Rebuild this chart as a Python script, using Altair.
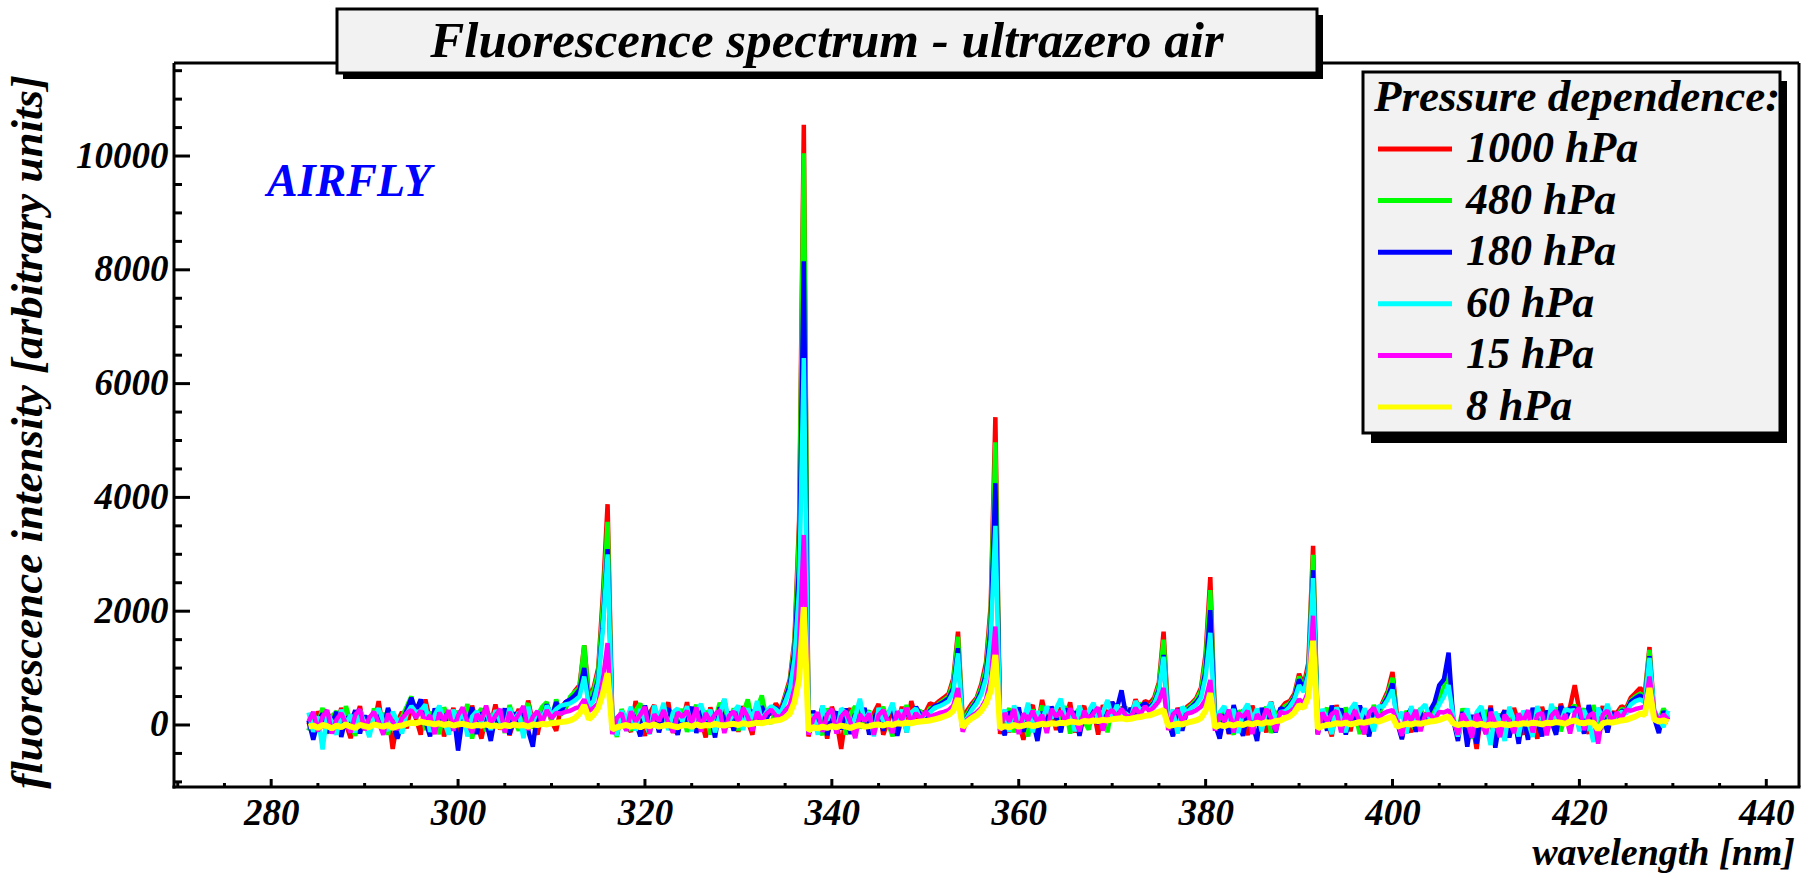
import altair as alt
import numpy as np
import pandas as pd

# Scan grid of the spectrometer (nm), 0.5 nm steps from 284.0 to 429.5
wavelength = np.arange(284.0, 430.0, 0.5)

series_names = ["1000 hPa", "480 hPa", "180 hPa", "60 hPa", "15 hPa", "8 hPa"]
series_colors = ["#ff0000", "#00ff00", "#0000ff", "#00ffff", "#ff00ff", "#ffff00"]

# Fluorescence intensity (arbitrary units), one list per pressure, 10 nm per row
i_1000 = [
    50, -180, 240, 30, -150, 190, -40, 300, 20, -230, 80, 330, -90, 160, 0, 420, -100, 220, -420, 60,
    230, -60, 360, 110, -170, 450, 80, -120, 260, -200, 40, 300, -130, 200, -40, 340, 30, -240, 150, 10,
    360, -80, 190, -180, 60, 280, -60, 430, 40, -170, 230, 350, 70, -100, 300, 400, 450, 600, 700, 1400,
    500, 650, 1000, 2300, 3880, 150, -160, 260, 20, -120, 420, 60, -190, 210, 350, -80, 140, 400, -140, 190,
    40, 400, -100, 250, 90, -220, 310, 30, 200, 450, -40, 260, -120, 330, 70, -170, 380, 60, 270, 180,
    380, 250, 520, 800, 1500, 3600, 10550, -200, 120, -130, 250, -240, 320, 60, -420, 170, 290, -80, 360, 50,
    -110, 210, 370, -170, 60, 260, 20, 320, -130, 420, 120, 230, 220, 380, 350, 420, 480, 550, 820, 1640,
    100, 260, 380, 480, 720, 1100, 2100, 5410, -160, 190, -130, 290, 40, -260, 220, 350, -70, 440, 70, 260,
    -90, 310, 90, 400, -130, 220, 330, 30, 260, -170, 350, 120, 400, 180, 300, 300, 140, 450, 250, 420,
    380, 480, 750, 1640, 150, -130, 300, 90, 320, 380, 470, 650, 1250, 2600, 100, -200, 240, -160, 310, 60,
    260, -180, 340, 40, 210, -130, 410, 90, 280, 380, 420, 550, 900, 700, 1100, 3150, -130, 260, 60, -200,
    350, 80, 250, -110, 320, 90, -160, 220, 300, 220, 420, 600, 930, 120, -230, 170, -130, 260, 40, 190,
    220, 300, 550, 800, 970, 100, -190, 210, -280, 60, -420, 200, -130, 340, -200, 40, 260, -160, 300, 30,
    -170, 230, 60, -240, 320, 20, 210, -130, 370, 160, 320, 700, 250, 40, -150, 260, 60, 330, -100, 220,
    210, 330, 290, 480, 560, 650, 560, 1370, 200, 120, 80, 60,
]
i_480 = [
    -100, 200, 20, 300, -140, 150, 240, -70, 330, 40, -190, 260, 60, -130, 290, 30, 210, -170, 180, 20,
    150, 320, 500, 120, 390, -90, 230, 60, -160, 310, 100, -80, 250, 40, 370, -240, 150, 290, -110, 200,
    30, 260, -140, 350, 100, -100, 230, 380, -60, 170, 320, 400, 60, 450, 180, 280, 500, 580, 650, 1400,
    450, 600, 930, 2100, 3570, 80, -210, 280, 60, -100, 250, 380, 10, -150, 270, 80, 330, -80, 210, 60,
    280, -120, 190, 350, 30, 250, -170, 80, 390, 140, 40, 290, -100, 200, 450, 60, 270, 520, 120, 30,
    250, 180, 480, 750, 1400, 3400, 10050, -150, 200, 40, -180, 290, 80, -100, 240, -170, 200, 330, -60, 150,
    250, -130, 150, 320, 40, -200, 230, 80, 350, 20, 270, 240, 140, 300, 290, 380, 440, 500, 760, 1550,
    60, 200, 330, 450, 660, 1000, 1950, 4970, -90, 150, 290, -130, 210, 80, -200, 270, 60, 340, -100, 170,
    240, 30, 330, -150, 190, 290, 60, -80, 310, 90, 240, -130, 370, 110, 250, 300, 100, 300, 380, 300,
    320, 430, 700, 1500, 90, -180, 220, 60, 280, 350, 440, 600, 1150, 2370, 60, -100, 290, 30, -170, 250,
    150, 300, -80, 230, 60, 320, -140, 200, 250, 330, 380, 500, 850, 650, 1000, 2990, -60, 180, 300, -130,
    210, -80, 310, 60, 200, -160, 260, 40, 350, 150, 380, 550, 830, 60, -170, 250, 30, -100, 300, 80,
    160, 260, 480, 700, 900, 60, -160, 290, 40, -240, 170, -90, 260, 60, -300, 200, 20, 240, -130, 160,
    60, -90, 260, 90, -150, 230, 40, 310, -110, 160, 260, 350, 120, 290, -100, 350, 80, -70, 250, 40,
    150, 280, 260, 430, 500, 550, 500, 1320, 150, 80, 290, 130,
]
i_180 = [
    80, -260, 60, 200, -130, 30, 230, -210, 140, 40, 260, -150, 170, -90, 60, 220, -80, 300, 50, -240,
    30, 260, 480, 250, 450, 70, -200, 290, 40, 190, -130, 240, -450, 150, 30, 310, -160, 220, 60, -280,
    170, 30, 290, -170, 220, 60, 320, -100, -380, 240, 80, 360, 130, 400, 220, 400, 450, 520, 620, 1000,
    380, 500, 800, 1800, 3090, 60, -160, 200, -100, 270, 70, -200, 340, 30, 240, -130, 170, 290, 40, -170,
    200, 60, 320, -140, 270, 40, 160, -220, 310, 70, 230, -100, 300, 90, 30, 260, 60, 330, 110, 280,
    300, 220, 450, 700, 1300, 2800, 8150, -130, 250, 20, 330, -180, 140, 230, -80, 290, -160, 200, 60, 300,
    -170, 100, 270, -100, 200, 310, -190, 140, 240, 40, 320, 170, 120, 250, 330, 360, 410, 470, 650, 1350,
    -40, 150, 300, 420, 600, 900, 1700, 4250, 40, -180, 240, 60, 310, -120, 200, 90, -280, 230, 40, 320,
    140, -130, 290, 50, 240, -190, 200, 80, 340, 20, 270, 110, 400, 280, 610, 150, 290, 200, 320, 380,
    300, 400, 620, 1230, 60, -200, 280, -100, 250, 320, 400, 520, 950, 2020, 20, -240, 190, -150, 350, 30,
    -190, 250, 50, -280, 300, 80, 220, -130, 300, 260, 350, 480, 800, 620, 950, 2720, -160, 240, -100, 340,
    60, 290, -170, 220, 30, 340, 100, -200, 270, 280, 350, 500, 730, 40, -250, 150, 290, -120, 210, 60,
    250, 400, 700, 800, 1270, 90, -280, 230, -380, 180, -330, 260, -150, 300, -400, 100, 250, -220, 150, -330,
    190, -260, 300, 40, -200, 250, 60, -170, 330, 80, 290, 300, 130, -150, 350, 20, 280, 230, -130, 220,
    100, 250, 230, 410, 470, 520, 450, 1210, 120, -140, 240, 90,
]
i_60 = [
    220, -120, 150, -430, 190, 60, -170, 270, 20, 180, -130, 250, 40, -210, 150, 290, 60, -100, 230, 80,
    -150, 200, 330, 220, 250, 360, -120, 170, 340, 60, -170, 270, 30, 290, -200, 150, 240, 40, 320, -90,
    260, 60, -100, 300, 80, 220, -230, 320, 40, 250, 100, 340, 180, 280, 340, 360, 380, 430, 500, 850,
    330, 420, 750, 1700, 3000, 40, -180, 250, 80, 320, -100, 280, 60, -160, 340, 110, 390, -90, 220, 290,
    60, 330, -110, 230, 370, 90, 270, -130, 180, 460, 50, 240, 340, -90, 290, 110, 420, 70, 230, 330,
    280, 200, 400, 620, 1150, 2400, 6450, -110, 190, -170, 340, 80, 260, -130, 290, 210, -90, 150, 460, 60,
    230, -200, 300, 70, 190, 390, 40, 270, -130, 220, 290, 100, 190, 220, 300, 330, 370, 420, 580, 1260,
    -20, 130, 270, 380, 540, 820, 1500, 3500, 60, 270, -120, 340, 120, 70, 390, -130, 240, 80, 330, 120,
    290, 460, 100, 240, -110, 340, 90, 250, 390, 60, 220, 440, 120, 350, 210, 200, 130, 420, 260, 300,
    270, 370, 580, 1200, 40, 270, -150, 320, 220, 300, 360, 480, 850, 1620, 40, 220, 330, 60, 280, -140,
    230, 370, 90, 290, -110, 250, 400, 60, 230, 240, 320, 450, 700, 580, 900, 2580, -90, 280, 100, -160,
    310, 110, -130, 270, 390, 70, 290, 130, -110, 330, 320, 450, 620, 80, 230, -150, 330, 60, 270, 360,
    110, 180, 360, 500, 700, 150, -200, 60, 290, -130, 220, 330, 20, -350, 230, 60, -280, 320, 90, -200,
    250, 60, -210, 330, 110, -120, 370, 130, 60, 280, 250, 260, -110, 260, 60, -300, 300, 120, 370, 60,
    180, 230, 200, 360, 420, 450, 400, 1180, 260, 110, -40, 250,
]
i_15 = [
    60, 230, -110, 150, 260, -150, 100, 210, 20, -130, 180, 270, -90, 130, 230, 40, -170, 200, 60, -80,
    120, 210, 260, 130, 250, 60, 170, -160, 220, 70, 260, -100, 170, 310, 50, -140, 190, 80, 340, 30,
    160, 280, -130, 230, 60, 190, 330, -90, 150, 240, 50, 260, 120, 210, 200, 230, 250, 290, 320, 450,
    250, 300, 380, 800, 1440, -160, 130, 210, -100, 240, 60, 180, 320, -150, 190, 70, 260, 40, -130, 220,
    140, 250, 30, 310, -120, 210, 60, 190, 260, -140, 160, 240, 40, 300, 140, -100, 230, 70, 200, 270,
    160, 140, 250, 350, 650, 1400, 3340, -170, 100, 220, -120, 190, 280, -150, 150, 240, 40, -230, 190, 70,
    200, -170, 170, 260, 50, -140, 240, 90, 300, 30, 210, 100, 240, 140, 180, 210, 230, 260, 340, 650,
    -120, 100, 160, 220, 300, 450, 800, 1730, -100, 210, 60, 280, -160, 200, 80, 250, 40, 180, -140, 280,
    150, 240, 40, 290, 120, -110, 250, 90, 210, 310, -100, 200, 260, 150, 280, 160, 150, 300, 180, 330,
    240, 320, 420, 650, -90, 190, 260, 60, 200, 220, 260, 320, 450, 790, -100, 190, 60, 270, -130, 210,
    140, 250, -160, 190, 60, 280, 130, -110, 230, 200, 230, 300, 450, 380, 600, 1920, -170, 220, 60, 190,
    250, -130, 200, 90, 260, 40, -150, 220, 300, 120, 200, 240, 260, 50, -190, 210, 80, 260, -110, 180,
    190, 90, 230, 220, 260, 100, -170, 200, 60, -220, 190, 40, -160, 230, 30, -210, 180, 70, -140, 200,
    60, 260, -130, 180, 210, -180, 160, 250, 30, 190, -150, 220, 300, -90, 160, 210, -330, 180, 250, 60,
    220, 120, 270, 250, 280, 300, 320, 850, 250, 60, 190, 90,
]
i_8 = [
    -30, -10, -50, 0, -20, -60, -10, -40, 10, -30, -50, 0, -20, -40, 10, -10, -30, 0, -50, -20,
    -10, 20, 40, 30, 60, 40, 30, 10, 30, 0, 20, -10, 10, 20, 0, -20, 0, -10, 10, -20,
    -10, -30, 0, -20, 10, -10, 0, -30, 10, 0, 20, 10, 30, 40, 50, 60, 80, 120, 200, 350,
    100, 180, 300, 550, 910, -80, -40, -20, 0, -30, -10, -40, 0, -20, 10, -30, -10, 0, -20, -40,
    -10, 0, -30, 10, -20, 0, -10, 20, 0, -10, 10, 20, 0, 30, 10, 20, 40, 30, 50, 60,
    80, 90, 130, 200, 400, 800, 2070, -100, -40, -60, -30, -50, -20, -40, -10, -30, -50, -20, 0, -30,
    -20, 0, 10, -10, 20, 0, 30, 20, 40, 30, 50, 60, 70, 80, 100, 120, 150, 180, 250, 470,
    -40, 60, 120, 170, 250, 380, 600, 1230, -60, -20, -40, 0, -30, -10, 10, -20, 0, 20, 10, 30,
    20, 40, 30, 60, 50, 40, 70, 60, 80, 70, 90, 80, 100, 110, 120, 100, 110, 130, 140, 160,
    170, 200, 230, 260, -20, 0, 20, 10, 40, 60, 80, 120, 250, 560, -40, 0, -20, 10, -10, 20,
    0, 30, 10, 40, 20, 50, 40, 70, 80, 120, 150, 220, 350, 300, 500, 1480, -60, -20, 0, 10,
    30, 20, 40, 10, 30, 50, 40, 60, 80, 60, 90, 120, 150, -30, 0, 20, 10, 30, 20, 40,
    60, 70, 90, 120, 150, 30, 0, 20, 10, 30, 0, 20, -10, 10, 0, 20, 10, 0, 20, 10,
    30, 20, 40, 30, 10, 40, 30, 50, 40, 20, 60, 80, 40, 30, 50, 40, -80, 30, 50, 40,
    60, 80, 90, 120, 150, 200, 180, 650, 100, 60, 80, 50,
]
intensities = [i_1000, i_480, i_180, i_60, i_15, i_8]

# Axis ticks
x_major = [280, 300, 320, 340, 360, 380, 400, 420, 440]
x_minor = [v for v in range(270, 445, 5) if v not in x_major]
y_major = [0, 2000, 4000, 6000, 8000, 10000]
y_minor = [v for v in range(-1000, 11501, 500) if v not in y_major]

X_DOMAIN = [269.6, 443.5]
Y_DOMAIN = [-1090, 11635]
W, H = 1625, 724
FONT = "Liberation Serif"

frames = []
for name, vals in zip(series_names, intensities):
    assert len(vals) == len(wavelength)
    frames.append(pd.DataFrame({"wavelength": wavelength, "intensity": vals, "pressure": name}))
spectra = pd.concat(frames, ignore_index=True)

xs = alt.Scale(domain=X_DOMAIN, nice=False, zero=False)
ys = alt.Scale(domain=Y_DOMAIN, nice=False, zero=False)

# one shared axis definition per scale, repeated in every layer so the merge keeps it
x_axis = alt.Axis(values=x_major, format="d", tickSize=0, domain=False, grid=False,
                  labelFont=FONT, labelFontSize=37, labelFontWeight="bold", labelFontStyle="italic",
                  labelColor="black", labelPadding=8, title=None, labelFlush=False)
y_axis = alt.Axis(values=y_major, format="d", tickSize=0, domain=False, grid=False,
                  labelFont=FONT, labelFontSize=37, labelFontWeight="bold", labelFontStyle="italic",
                  labelColor="black", labelPadding=6, title=None)

one = pd.DataFrame({"k": [0]})


def box(x0, x1, y0, y1, **kw):
    return alt.Chart(one).mark_rect(**kw).encode(
        x=alt.value(x0), x2=alt.value(x1), y=alt.value(y0), y2=alt.value(y1))


def label(text, x, y, size, color="black", align="left", angle=0):
    return alt.Chart(one).mark_text(
        text=text, font=FONT, fontSize=size, fontWeight="bold", fontStyle="italic",
        color=color, align=align, baseline="middle", angle=angle
    ).encode(x=alt.value(x), y=alt.value(y))


def rule(x0, x1, y0, y1, color="black", width=3):
    return alt.Chart(one).mark_rule(color=color, strokeWidth=width).encode(
        x=alt.value(x0), x2=alt.value(x1), y=alt.value(y0), y2=alt.value(y1))


layers = []

# spectra, drawn from highest pressure (bottom) to lowest (top)
for name, col in zip(series_names, series_colors):
    layers.append(
        alt.Chart(spectra).transform_filter(alt.datum.pressure == name)
        .mark_line(color=col, strokeWidth=6 if name == "8 hPa" else 4.5, strokeJoin="bevel")
        .encode(
            x=alt.X("wavelength:Q", scale=xs, axis=x_axis),
            y=alt.Y("intensity:Q", scale=ys, axis=y_axis),
            order="wavelength:Q",
        )
    )

# inward tick marks
ty_major = alt.Chart(pd.DataFrame({"v": y_major})).mark_rule(color="black", strokeWidth=3).encode(
    y=alt.Y("v:Q", scale=ys, axis=y_axis), x=alt.value(0), x2=alt.value(16))
ty_minor = alt.Chart(pd.DataFrame({"v": y_minor})).mark_rule(color="black", strokeWidth=3).encode(
    y=alt.Y("v:Q", scale=ys, axis=y_axis), x=alt.value(0), x2=alt.value(8))
tx_major = alt.Chart(pd.DataFrame({"v": x_major})).mark_rule(color="black", strokeWidth=3).encode(
    x=alt.X("v:Q", scale=xs, axis=x_axis), y=alt.value(H), y2=alt.value(H - 8))
tx_minor = alt.Chart(pd.DataFrame({"v": x_minor})).mark_rule(color="black", strokeWidth=3).encode(
    x=alt.X("v:Q", scale=xs, axis=x_axis), y=alt.value(H), y2=alt.value(H - 4))
layers += [ty_major, ty_minor, tx_major, tx_minor]

# frame
layers += [rule(0, W, 0, 0), rule(W, W, 0, H), rule(0, 0, 0, H + 1.5), rule(-1.5, W + 1.5, H, H)]

# title box with drop shadow
layers += [
    box(169, 1149, -48, 16, color="black"),
    box(163, 1143, -54, 10, fill="#f2f2f2", stroke="black", strokeWidth=3),
    label("Fluorescence spectrum - ultrazero air", 653, -21, 51, align="center"),
]

# legend box with drop shadow
layers += [
    box(1197, 1613, 18, 380, color="black"),
    box(1189, 1606, 9, 370, fill="#f2f2f2", stroke="black", strokeWidth=3),
    label("Pressure dependence:", 1200, 34, 45),
]
for k, (name, col) in enumerate(zip(series_names, series_colors)):
    yk = 86 + k * 51.6
    layers.append(rule(1204, 1278, yk, yk, color=col, width=5))
    layers.append(label(name, 1292, yk, 44))

layers += [
    label("AIRFLY", 93, 119, 46, color="#0000ff"),
    label("fluorescence intensity [arbitrary units]", -146, 12, 45, align="right", angle=270),
    label("wavelength [nm]", 1621, 791, 38, align="right"),
]

chart = alt.layer(*layers).properties(
    width=W, height=H,
    autosize=alt.AutoSizeParams(type="none"),
    padding={"left": 174, "top": 63, "right": 7, "bottom": 88},
).configure_view(stroke=None).configure(background="white")

chart.save("out.html", embed_options={"renderer": "svg", "actions": False})
